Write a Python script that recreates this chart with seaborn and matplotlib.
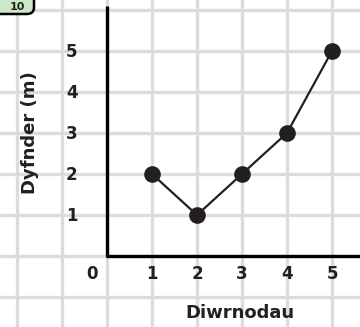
import matplotlib
matplotlib.use("Agg")
import matplotlib.pyplot as plt
import seaborn as sns
import pandas as pd
from matplotlib.patches import FancyBboxPatch

days = [1, 2, 3, 4, 5]
depth = [2, 1, 2, 3, 5]
x_tick_labels = ["1", "2", "3", "4", "5"]
y_tick_labels = ["1", "2", "3", "4", "5"]
x_label = "Diwrnodau"
y_label = "Dyfnder (m)"
badge_text = "10"

df = pd.DataFrame({"Diwrnod": days, "Dyfnder": depth})

sns.set_theme(style="white")
plt.rcParams["font.family"] = ["DejaVu Sans"]

W, H = 360, 327
fig = plt.figure(figsize=(W / 100, H / 100), dpi=100)
ax = fig.add_axes([0, 0, 1, 1])

# pixel mapping: x_px = 107 + 45*x ; y_px = 256 - 41*y
x0, x1 = -107 / 45, (W - 107) / 45
y0, y1 = (256 - H) / 41, 256 / 41
ax.set_xlim(x0, x1)
ax.set_ylim(y0, y1)

ax.set_xticks(range(-2, 6))
ax.set_yticks(range(-1, 7))
ax.set_xticklabels([])
ax.set_yticklabels([])
ax.tick_params(length=0)
ax.grid(True, color="#dcdcde", linewidth=2.4, zorder=0)
ax.set_axisbelow(True)
for s in ax.spines.values():
    s.set_visible(False)

# axis lines
ax.axhline(0, xmin=(0 - x0) / (x1 - x0), xmax=1, color="black", lw=2.4, zorder=3)
ax.axvline(0, ymin=(0 - y0) / (y1 - y0), ymax=(6.1 - y0) / (y1 - y0),
           color="black", lw=2.4, zorder=3, solid_capstyle="butt")

sns.lineplot(data=df, x="Diwrnod", y="Dyfnder", ax=ax, color="#231f20",
             lw=1.6, marker="o", markersize=12, markeredgewidth=0, zorder=4)
ax.set_xlabel("")
ax.set_ylabel("")

tick_kw = dict(fontsize=12, fontweight="bold", color="#231f20",
               ha="center", va="center")
for xv, lab in zip(days, x_tick_labels):
    ax.text(xv, -0.43, lab, **tick_kw)
ax.text(-0.33, -0.43, "0", **tick_kw)
for yv, lab in zip(range(1, 6), y_tick_labels):
    ax.text(-0.78, yv - 0.02, lab, **tick_kw)

ax.text(2.96, -1.39, x_label, fontsize=13, fontweight="bold",
        color="#231f20", ha="center", va="center")
ax.text(-1.71, 3.0, y_label, fontsize=13, fontweight="bold",
        color="#231f20", ha="center", va="center", rotation=90)

# badge at top-left (cut off by the edge)
badge = FancyBboxPatch((-10 / W, 1 - 14 / H), 44 / W, 30 / H,
                       boxstyle="round,pad=0,rounding_size=0.02",
                       transform=fig.transFigure, facecolor="#cde8c6",
                       edgecolor="black", lw=1.8, zorder=5, clip_on=False)
fig.patches.append(badge)
fig.text(17 / W, 1 - 6.5 / H, badge_text, fontsize=8, fontweight="bold",
         color="#231f20", ha="center", va="center", zorder=6)

fig.savefig("out.png", dpi=100)
